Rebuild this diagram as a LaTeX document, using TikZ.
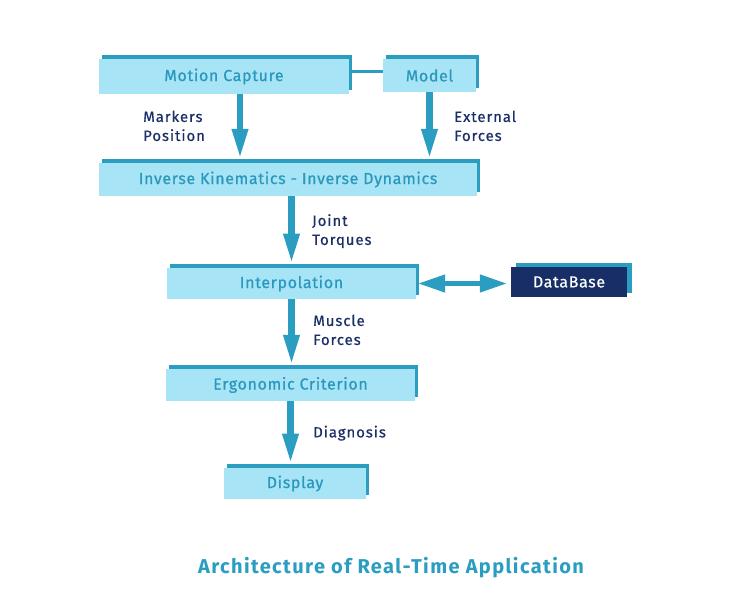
\documentclass[tikz,border=0pt]{standalone}
\usepackage{fontspec}
\setmainfont{Fira Sans}
\newfontfamily\boxfont{Fira Sans}[FakeBold=0.6, LetterSpace=4]
\newfontfamily\notefont{Fira Sans}[FakeBold=0.5, LetterSpace=6]
\newfontfamily\titlefont{Fira Sans Bold}[LetterSpace=7]
\usetikzlibrary{arrows.meta, positioning, calc, shadows}
\definecolor{RT_Light}{HTML}{A7E4F6}
\definecolor{RT_Teal}{HTML}{2A9DC1}
\definecolor{RT_Text}{HTML}{2A98BC}
\definecolor{RT_Navy}{HTML}{1B2E68}
\definecolor{RT_Dark}{HTML}{172E66}

\begin{document}
\begin{tikzpicture}[
    x=1pt, y=-1pt,
    block/.style={fill=RT_Light, text=RT_Text, font=\boxfont\fontsize{16}{19}\selectfont, inner sep=0pt, anchor=center,
        general shadow={fill=RT_Teal, shadow xshift=3pt, shadow yshift=4pt}},
    dbblock/.style={fill=RT_Dark, text=white, font=\boxfont\fontsize{16}{19}\selectfont, inner sep=0pt, anchor=center,
        general shadow={fill=RT_Teal, shadow xshift=5pt, shadow yshift=4.5pt}},
    note/.style={text=RT_Navy, font=\notefont\fontsize{15}{19}\selectfont, align=left, inner sep=0pt, anchor=north west},
    flow/.style={draw=RT_Teal, line width=6.5pt, -{Triangle[width=15pt,length=30pt]}, shorten >=4pt},
    twoway/.style={draw=RT_Teal, line width=4.5pt, {Triangle[width=17pt,length=27pt]}-{Triangle[width=17pt,length=27pt]}, shorten <=2pt, shorten >=4pt},
    link/.style={draw=RT_Teal, line width=3pt}
]
\useasboundingbox (0,0) rectangle (730,608);

% boxes
\node[block, minimum width=250pt, minimum height=35pt] (mc) at (224,76.5) {Motion Capture};
\node[block, minimum width=93pt, minimum height=33pt] (model) at (429.5,75.5) {Model};
\node[block, minimum width=378pt, minimum height=33pt] (ik) at (288,179.5) {Inverse Kinematics - Inverse Dynamics};
\node[block, minimum width=249pt, minimum height=31.5pt] (interp) at (291.5,283.5) {Interpolation};
\node[dbblock, minimum width=116pt, minimum height=30pt] (db) at (569,282) {DataBase};
\node[block, minimum width=249pt, minimum height=32pt] (ergo) at (290.5,385) {Ergonomic Criterion};
\node[block, minimum width=142pt, minimum height=31.5pt] (disp) at (295,483.5) {Display};

% labels
\node[note] (markers) at (143,110.5) {Markers\\Position};
\node[note] (external) at (454,110.5) {External\\Forces};
\node[note] (joint) at (312,214) {Joint\\Torques};
\node[note] (muscle) at (313,314.5) {Muscle\\Forces};
\node[note] (diag) at (313,425.5) {Diagnosis};

% connectors
\draw[link] ([yshift=5pt]mc.east) -- ([yshift=5pt]mc.east -| model.west);
\draw[flow] ([xshift=16pt]mc.south) -- ([xshift=16pt]mc.south |- ik.north);
\draw[flow] (model.south) -- (model.south |- ik.north);
\draw[flow] (interp.north |- ik.south) -- (interp.north);
\draw[flow] (interp.south) -- (interp.south |- ergo.north);
\draw[flow] (ergo.south) -- (ergo.south |- disp.north);
\draw[twoway] (interp.east) -- (interp.east -| db.west);

% title
\node[text=RT_Teal, font=\titlefont\fontsize{20}{24}\selectfont, anchor=base] (title) at (391,573.3) {Architecture of Real-Time Application};
\end{tikzpicture}
\end{document}
